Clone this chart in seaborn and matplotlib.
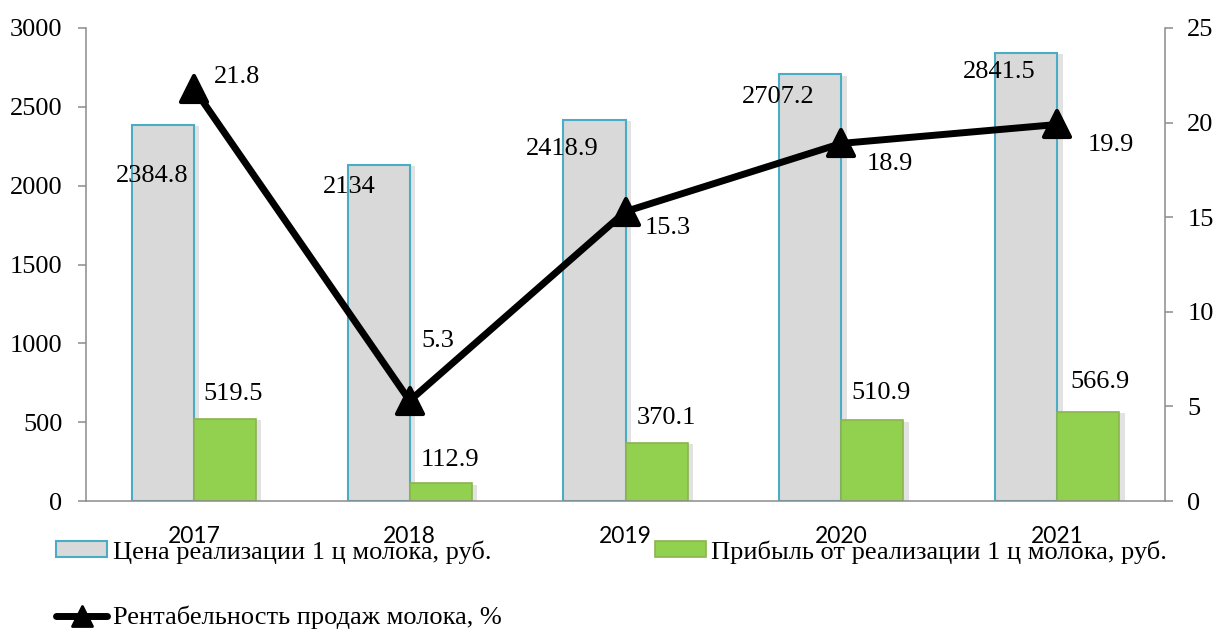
import numpy as np
import pandas as pd
import matplotlib
matplotlib.use('Agg')
import matplotlib.pyplot as plt
import matplotlib.patheffects as pe
from matplotlib.markers import MarkerStyle
from matplotlib.patches import Patch
from matplotlib.lines import Line2D
import seaborn as sns

# данные с графика
years = ['2017', '2018', '2019', '2020', '2021']
price = [2384.8, 2134, 2418.9, 2707.2, 2841.5]
profit = [519.5, 112.9, 370.1, 510.9, 566.9]
rent = [21.8, 5.3, 15.3, 18.9, 19.9]

price_name = 'Цена реализации 1 ц молока, руб.'
profit_name = 'Прибыль от реализации 1 ц молока, руб.'
rent_name = 'Рентабельность продаж молока, %'

# ручные сдвиги подписей (пиксели), как в исходной диаграмме
price_off = [(-11, -51), (-29, -22), (-32, -29), (-32, -23), (-27, -19)]
profit_off = [(8, 25), (9, 23), (10, 25), (9, 27), (12, 30)]
rent_off = [(43, 12), (28, 60), (42, -16), (49, -21), (54, -21)]

df = pd.DataFrame({
    'year': years * 2,
    'series': [price_name] * 5 + [profit_name] * 5,
    'value': price + profit,
})

sns.set_style('white')
plt.rcParams['font.family'] = ['Liberation Serif', 'DejaVu Serif']
plt.rcParams['text.color'] = 'black'
plt.rcParams['xtick.color'] = 'black'
plt.rcParams['ytick.color'] = 'black'

GREY = '#D9D9D9'
GREY_EDGE = '#4BACC6'
GREEN = '#92D050'
GREEN_EDGE = '#8CB44E'
AXIS = '#8C8C8C'
FS = 19
PX = 0.72  # пиксели -> пункты при dpi 100

fig = plt.figure(figsize=(12.18, 6.31), dpi=100)
ax = fig.add_axes([86 / 1218, 130 / 631, (1165 - 86) / 1218, (501 - 28) / 631])

sns.barplot(data=df, x='year', y='value', hue='series', palette=[GREY, GREEN],
            width=0.575, saturation=1, legend=False, ax=ax)

shadow = [pe.SimplePatchShadow(offset=(4, -1), shadow_rgbFace='#BFBFBF', alpha=0.45), pe.Normal()]
for cont, ec, lw in zip(ax.containers, [GREY_EDGE, GREEN_EDGE], [1.5, 1.2]):
    for p in cont.patches:
        p.set_edgecolor(ec)
        p.set_linewidth(lw)
        p.set_path_effects(shadow)

for p, val, (dx, dy) in zip(ax.containers[0].patches, price, price_off):
    ax.annotate(f'{val:g}', (p.get_x() + p.get_width() / 2, val),
                xytext=(dx * PX, dy * PX), textcoords='offset points',
                ha='center', va='center', fontsize=FS)
for p, val, (dx, dy) in zip(ax.containers[1].patches, profit, profit_off):
    ax.annotate(f'{val:g}', (p.get_x() + p.get_width() / 2, val),
                xytext=(dx * PX, dy * PX), textcoords='offset points',
                ha='center', va='center', fontsize=FS)

ax.set_ylim(0, 3000)
ax.set_yticks(np.arange(0, 3001, 500))
ax.set_xlim(-0.5, 4.5)
ax.set_xlabel('')
ax.set_ylabel('')
ax.set_xticks(np.arange(-0.5, 5, 1), minor=True)
ax.tick_params(axis='x', which='major', length=0, pad=18, labelsize=16.5)
ax.tick_params(axis='x', which='minor', length=6, width=1.1, color=AXIS)
ax.tick_params(axis='y', length=6, width=1.1, color=AXIS, labelcolor='black',
               pad=11, labelsize=FS)
for lab in ax.get_xticklabels():
    lab.set_fontfamily(['Lato', 'DejaVu Sans'])
for s in ['left', 'bottom']:
    ax.spines[s].set_color(AXIS)
    ax.spines[s].set_linewidth(1.1)
ax.spines['top'].set_visible(False)
ax.spines['right'].set_visible(False)

# рентабельность на правой оси
ax2 = ax.twinx()
tri = MarkerStyle('^', joinstyle='round')
sns.lineplot(x=np.arange(len(years)), y=rent, ax=ax2, color='black', linewidth=5,
             marker=tri, markersize=19, markeredgewidth=3, markeredgecolor='black',
             solid_joinstyle='round', legend=False)
for i, (val, (dx, dy)) in enumerate(zip(rent, rent_off)):
    ax2.annotate(f'{val:g}', (i, val), xytext=(dx * PX, dy * PX),
                 textcoords='offset points', ha='center', va='center', fontsize=FS)

ax2.set_ylim(0, 25)
ax2.set_yticks(np.arange(0, 26, 5))
ax2.set_xlim(-0.5, 4.5)
ax2.set_ylabel('')
ax2.tick_params(axis='y', length=6, width=1.1, color=AXIS, labelcolor='black',
                pad=10, labelsize=FS)
for s in ['left', 'bottom', 'top']:
    ax2.spines[s].set_visible(False)
ax2.spines['right'].set_color(AXIS)
ax2.spines['right'].set_linewidth(1.1)

handles = [
    Patch(facecolor=GREY, edgecolor=GREY_EDGE, linewidth=1.5),
    Line2D([], [], color='black', linewidth=5, marker=tri, markersize=14,
           markeredgewidth=2),
    Patch(facecolor=GREEN, edgecolor=GREEN_EDGE, linewidth=1.2),
]
fig.legend(handles, [price_name, rent_name, profit_name], ncol=2,
           loc='upper left', bbox_to_anchor=(56 / 1218, 1 - 540 / 631),
           frameon=False, fontsize=FS, borderpad=0, borderaxespad=0,
           handlelength=1.95, handleheight=0.55, handletextpad=0.2,
           columnspacing=5.8, labelspacing=1.6)

fig.savefig('out.png', dpi=100)
